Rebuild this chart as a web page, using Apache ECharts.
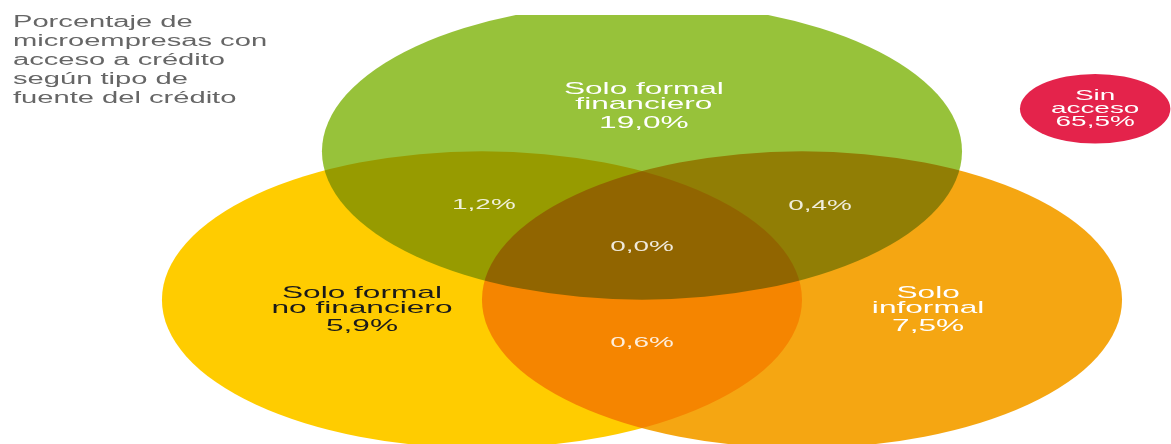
<!DOCTYPE html>
<html>
<head>
<meta charset="utf-8">
<script src="https://cdn.jsdelivr.net/npm/echarts@6/dist/echarts.min.js"></script>
<style>
  html, body { margin: 0; padding: 0; background: #fff; }
  #chart { width: 1171px; height: 444px; }
</style>
</head>
<body>
<div id="chart"></div>
<script>
// ---- Data ----
const titleText = 'Porcentaje de\nmicroempresas con\nacceso a crédito\nsegún tipo de\nfuente del crédito';

// Single credit sources (share of microenterprises, %)
const setNames = ['Solo formal\nfinanciero', 'Solo formal\nno financiero', 'Solo\ninformal'];
const setValues = [19.0, 5.9, 7.5];

// Two-source overlaps: [financiero + no financiero, financiero + informal, no financiero + informal]
const pairValues = [1.2, 0.4, 0.6];

// All three sources
const tripleValue = 0.0;

// No access to credit
const noAccessName = 'Sin\nacceso';
const noAccessValue = 65.5;

// ---- Layout (Venn space: unit radius circles) ----
const FONT = '"Liberation Sans", Arial, Helvetica, sans-serif';
const STRETCH = 1.86;
const setCenters = [[0, 1], [-0.5, 0], [0.5, 0]];
const setRadius = 1;
const setColors = ['#97c23a', '#ffcc00', '#f5a612'];
const noAccessCenter = [1.416, 1.287];
const noAccessRadius = 0.235;
const noAccessColor = '#e4234b';

const setLabelAnchors = [[0.006, 1.29], [-0.875, -0.08], [0.894, -0.08]];
const setLabelColors = ['#ffffff', '#1a1a1a', '#ffffff'];
const pairLabelAnchors = [[-0.494, 0.639], [0.556, 0.635], [0, -0.294]];
const tripleLabelAnchor = [0, 0.355];

const fmt = v => v.toFixed(1).replace('.', ',') + '%';

// Circles: [x, y, radius, colour index]
const circleData = setCenters.map((c, i) => [c[0], c[1], setRadius, i]);
circleData.push([noAccessCenter[0], noAccessCenter[1], noAccessRadius, 3]);
const circleColors = setColors.concat([noAccessColor]);

// Labels: [x, y, kind, index]
const labelData = [];
setLabelAnchors.forEach((a, i) => labelData.push([a[0], a[1], 0, i]));
pairLabelAnchors.forEach((a, i) => labelData.push([a[0], a[1], 1, i]));
labelData.push([tripleLabelAnchor[0], tripleLabelAnchor[1], 2, 0]);
labelData.push([noAccessCenter[0], noAccessCenter[1], 3, 0]);

function labelStyle(kind, idx) {
  if (kind === 0) {
    const lines = setNames[idx].split('\n').map(s => '{n|' + s + '}');
    lines.push('{v|' + fmt(setValues[idx]) + '}');
    const fill = setLabelColors[idx];
    return {
      text: lines.join('\n'),
      fill: fill,
      rich: {
        n: { fontSize: 17, fontFamily: FONT, lineHeight: 15, fill: fill },
        v: { fontSize: 17, fontFamily: FONT, lineHeight: 22, fill: fill }
      }
    };
  }
  if (kind === 1 || kind === 2) {
    const v = kind === 1 ? pairValues[idx] : tripleValue;
    return { text: fmt(v), fill: 'rgba(255,255,255,0.86)', fontSize: 15, fontFamily: FONT };
  }
  return {
    text: noAccessName + '\n' + fmt(noAccessValue),
    fill: '#ffffff', fontSize: 15, fontFamily: FONT, lineHeight: 13
  };
}

const chart = echarts.init(document.getElementById('chart'), null, { renderer: 'canvas' });
chart.setOption({
  backgroundColor: '#ffffff',
  animation: false,
  grid: { left: 0, right: 0, top: 15, bottom: 0 },
  xAxis: { type: 'value', min: -2.006, max: 1.653, show: false },
  yAxis: { type: 'value', min: -0.973, max: 1.919, show: false },
  graphic: [{
    type: 'text',
    x: 13, y: 13.5,
    scaleX: 1.82,
    style: {
      text: titleText,
      fill: '#666666',
      fontSize: 16,
      fontFamily: FONT,
      lineHeight: 19,
      verticalAlign: 'top'
    }
  }],
  series: [
    {
      type: 'custom',
      coordinateSystem: 'cartesian2d',
      clip: true,
      silent: true,
      data: circleData,
      renderItem(params, api) {
        const c = api.coord([api.value(0), api.value(1)]);
        const r = api.size([api.value(2), api.value(2)]);
        return {
          type: 'circle',
          x: c[0], y: c[1],
          scaleY: r[1] / r[0],
          shape: { cx: 0, cy: 0, r: r[0] },
          style: { fill: circleColors[api.value(3)], blend: 'multiply' }
        };
      }
    },
    {
      type: 'custom',
      coordinateSystem: 'cartesian2d',
      silent: true,
      data: labelData,
      renderItem(params, api) {
        const c = api.coord([api.value(0), api.value(1)]);
        const st = labelStyle(api.value(2), api.value(3));
        st.align = 'center';
        st.verticalAlign = 'middle';
        return { type: 'text', x: c[0], y: c[1], scaleX: STRETCH, style: st };
      }
    }
  ]
});

// Overlapping sets mix their colours (multiply), so each intersection gets its own darker tone.
const zr = chart.getZr();
zr.storage.getDisplayList(true).forEach(el => {
  if (el.type === 'circle') {
    el.style.blend = 'multiply';
    el.markRedraw();
  }
});
zr.refreshImmediately();
</script>
</body>
</html>
